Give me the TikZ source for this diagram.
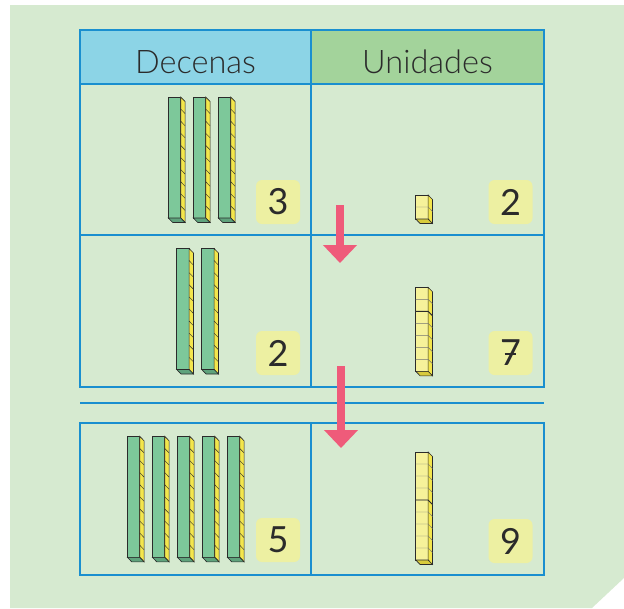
\documentclass[tikz,border=0pt]{standalone}
\usepackage{fontspec}
\setmainfont{Lato}
\newfontfamily\fina{Lato Light}
\usetikzlibrary{arrows.meta}
\definecolor{fondo}{HTML}{D6EAD0}
\definecolor{celeste}{HTML}{8CD4E6}
\definecolor{verdecab}{HTML}{A3D39B}
\definecolor{azul}{HTML}{1A8FCF}
\definecolor{verdebarra}{HTML}{7DC89A}
\definecolor{verdeoscuro}{HTML}{5FA37C}
\definecolor{amarillolado}{HTML}{F3E64C}
\definecolor{amarillofrente}{HTML}{F6F29A}
\definecolor{amarillooscuro}{HTML}{D8CB3C}
\definecolor{amarillo}{HTML}{EDF0A2}
\definecolor{rosa}{HTML}{EF5B7A}
\definecolor{tinta}{HTML}{2B2B2B}
\begin{document}
\begin{tikzpicture}[x=1pt,y=-1pt,
    borde/.style={draw=azul,line width=1.8pt},
    caja/.style={fill=amarillo,rounded corners=6pt,minimum width=44pt,minimum height=44pt,
      inner sep=0pt,font=\fontsize{36}{36}\selectfont,text=tinta},
    titulo/.style={anchor=base,font=\fina\fontsize{32.5}{32.5}\selectfont,text=tinta},
    flecha/.style={draw=rosa,line width=7.5pt,-{Triangle[width=33pt,length=18pt]}},
    arista/.style={draw=tinta,line width=0.6pt}]
  \useasboundingbox (0,0) rectangle (624,608);
  \fill[fondo] (10,5) -- (624,5) -- (624,578) -- (592,608) -- (10,608) -- cycle;
  % encabezado
  \fill[celeste] (80,30) rectangle (311,84);
  \fill[verdecab] (311,30) rectangle (544,84);
  \node[titulo] (decenas) at (195.5,73) {Decenas};
  \node[titulo] (unidades) at (427.5,73) {Unidades};
  % tabla
  \draw[borde] (80,30) rectangle (544,387);
  \draw[borde] (80,84) -- (544,84);
  \draw[borde] (80,235) -- (544,235);
  \draw[borde] (311,30) -- (311,387);
  \draw[borde] (80,403) -- (544,403);
  \draw[borde] (80,423) rectangle (544,575);
  \draw[borde] (311,423) -- (311,575);
  % barras de decenas
  \foreach \x/\t in {168.3/97,193.3/97,218.3/97,176.7/248.5,201.7/248.5,
      127.3/436.3,152.3/436.3,177.3/436.3,202.3/436.3,227.3/436.3} {
    \begin{scope}[shift={(\x,\t)}]
      \filldraw[arista,fill=verdebarra] (0,0) rectangle (12.4,121);
      \filldraw[arista,fill=amarillolado] (12.4,0) -- (16.8,4.5) -- (16.8,125.5) -- (12.4,121) -- cycle;
      \filldraw[arista,fill=verdeoscuro] (0,121) -- (12.4,121) -- (16.8,125.5) -- (4.4,125.5) -- cycle;
      \foreach \k in {1,...,9}
        \draw[arista,line width=0.4pt] (12.4,\k*12.1) -- (16.8,\k*12.1+4.5);
    \end{scope}
  }
  % cubos de unidades
  \foreach \t/\n/\m in {195/2/0,287.3/7/2,452/9/4} {
    \begin{scope}[shift={(415.7,\t)}]
      \pgfmathtruncatemacro\nn{\n-1}
      \filldraw[arista,fill=amarillofrente] (0,0) rectangle (12.4,\n*12);
      \filldraw[arista,fill=amarillolado] (12.4,0) -- (16.8,4.5) -- (16.8,\n*12+4.5) -- (12.4,\n*12) -- cycle;
      \filldraw[arista,fill=amarillooscuro] (0,\n*12) -- (12.4,\n*12) -- (16.8,\n*12+4.5) -- (4.4,\n*12+4.5) -- cycle;
      \foreach \k in {1,...,\nn}
        \draw[draw=black!55,line width=0.4pt] (0,\k*12) -- (12.4,\k*12) -- (16.8,\k*12+4.5);
      \ifnum\m>0
        \draw[arista,line width=0.9pt] (0,\m*12) -- (12.4,\m*12) -- (16.8,\m*12+4.5);
      \fi
    \end{scope}
  }
  % numeros
  \node[caja] (d1) at (278,202) {3};
  \node[caja] (u1) at (510.5,202) {2};
  \node[caja] (d2) at (278,353) {2};
  \node[caja] (u2) at (510.5,353) {7};
  \node[caja] (d3) at (278,540) {5};
  \node[caja] (u3) at (510.5,541) {9};
  \draw[tinta,line width=1.8pt] ([xshift=-6pt,yshift=-1pt]u2.center) -- ([xshift=5pt,yshift=-1pt]u2.center);
  % flechas
  \coordinate (f1a) at (340,205);
  \coordinate (f1b) at (340,263);
  \coordinate (f2a) at (341,366);
  \coordinate (f2b) at (341,448);
  \draw[flecha] (f1a) -- (f1b);
  \draw[flecha] (f2a) -- (f2b);
\end{tikzpicture}
\end{document}
